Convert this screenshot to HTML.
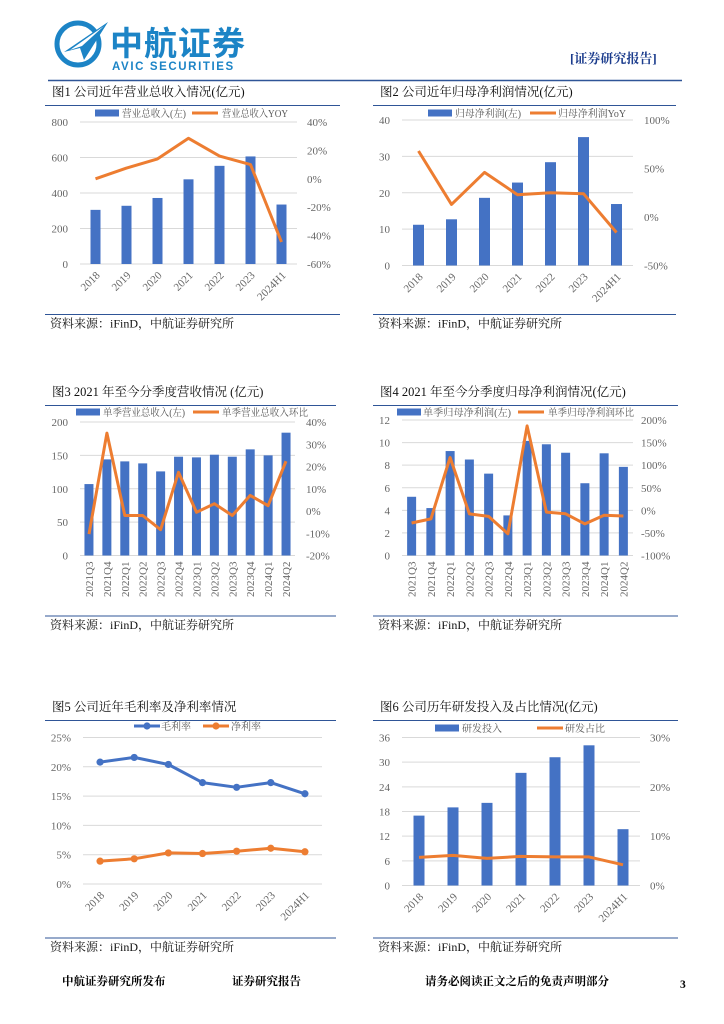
<!DOCTYPE html>
<html><head><meta charset="utf-8">
<style>
html,body{margin:0;padding:0;background:#fff;}
svg{display:block;}
text{font-family:"Liberation Serif","Noto Serif CJK SC",serif;}
.tick{font-size:11px;fill:#666;}
.leg{font-size:10px;fill:#595959;}
.ttl{font-size:12.5px;fill:#111;}
.src{font-size:12px;fill:#111;}
.foot{font-size:11.5px;fill:#000;font-weight:bold;}
</style></head>
<body>
<svg id="page" width="724" height="1024" viewBox="0 0 724 1024" xmlns="http://www.w3.org/2000/svg">
  <g>
    <g>
      <circle cx="78" cy="44" r="21" fill="none" stroke="#1c84c6" stroke-width="5"/>
      <path d="M64 52 L108 22 L84 60 L80 48 Z" fill="#1c84c6"/>
      <path d="M70 50 L104 26 L82 46 Z" fill="#fff"/>
    </g>
    <text x="110" y="55" style="font-family:'Noto Sans CJK SC',sans-serif;font-size:33px;font-weight:bold;fill:#1c84c6;letter-spacing:1px">中航证券</text>
    <text x="112" y="70" style="font-family:'Liberation Sans',sans-serif;font-size:11.5px;font-weight:bold;fill:#1c84c6;letter-spacing:1.6px">AVIC SECURITIES</text>
    <text x="570" y="63" style="font-size:13px;font-weight:bold;fill:#1a3b8c">[证券研究报告]</text>
    <line x1="48" y1="80.5" x2="682" y2="80.5" stroke="#2f5597" stroke-width="1.5"/>
  </g>
  <g id="charts"></g>
  <g>
    <text class="foot" x="62" y="985">中航证券研究所发布</text>
    <text class="foot" x="232" y="985">证券研究报告</text>
    <text class="foot" x="425" y="985">请务必阅读正文之后的免责声明部分</text>
    <text class="foot" x="680" y="988">3</text>
  </g>
</svg>
<script>
// ---- Chart 1 data ----
const c1Categories = ["2018","2019","2020","2021","2022","2023","2024H1"];
const c1Revenue = [305,328,372,477,553,606,335];
const c1Yoy = [0,7.5,14,28.5,16,10,-44.5];
const c1LeftTicks = [0,200,400,600,800];
const c1RightTicks = ["-60%","-40%","-20%","0%","20%","40%"];
// ---- Chart 2 data ----
const c2Categories = ["2018","2019","2020","2021","2022","2023","2024H1"];
const c2Profit = [11.2,12.7,18.6,22.8,28.4,35.3,16.9];
const c2Yoy = [68,13,46,23,25,24,-16];
const c2LeftTicks = [0,10,20,30,40];
const c2RightTicks = ["-50%","0%","50%","100%"];
// ---- Chart 3 data ----
const c3Categories = ["2021Q3","2021Q4","2022Q1","2022Q2","2022Q3","2022Q4","2023Q1","2023Q2","2023Q3","2023Q4","2024Q1","2024Q2"];
const c3Revenue = [107,144,141,138,126,148,147,151,148,159,150,184];
const c3Qoq = [-10.4,35,-2,-2,-8.4,17.4,-0.6,3.3,-2,7,2.4,22.4];
const c3LeftTicks = [0,50,100,150,200];
const c3RightTicks = ["-20%","-10%","0%","10%","20%","30%","40%"];
// ---- Chart 4 data ----
const c4Categories = ["2021Q3","2021Q4","2022Q1","2022Q2","2022Q3","2022Q4","2023Q1","2023Q2","2023Q3","2023Q4","2024Q1","2024Q2"];
const c4Profit = [5.2,4.2,9.25,8.5,7.25,3.55,10.15,9.85,9.1,6.4,9.05,7.85];
const c4Qoq = [-28,-19,117,-8,-13.5,-52,187,-4,-7.7,-30,-11,-12.5];
const c4LeftTicks = [0,2,4,6,8,10,12];
const c4RightTicks = ["-100%","-50%","0%","50%","100%","150%","200%"];
// ---- Chart 5 data ----
const c5Categories = ["2018","2019","2020","2021","2022","2023","2024H1"];
const c5Gross = [20.8,21.6,20.4,17.3,16.5,17.3,15.4];
const c5Net = [3.9,4.3,5.3,5.2,5.6,6.1,5.5];
const c5LeftTicks = ["0%","5%","10%","15%","20%","25%"];
// ---- Chart 6 data ----
const c6Categories = ["2018","2019","2020","2021","2022","2023","2024H1"];
const c6Rd = [17.0,19.0,20.1,27.4,31.2,34.1,13.7];
const c6Ratio = [5.7,6.1,5.5,5.9,5.8,5.8,4.2];
const c6LeftTicks = [0,6,12,18,24,30,36];
const c6RightTicks = ["0%","10%","20%","30%"];

const NS = "http://www.w3.org/2000/svg";
const root = document.getElementById("charts");
const BLUE = "#4472C4", ORANGE = "#ED7D31";
function mk(tag, attrs, parent, txt){
  const e = document.createElementNS(NS, tag);
  for (const k in attrs) e.setAttribute(k, attrs[k]);
  if (txt !== undefined) e.textContent = txt;
  (parent||root).appendChild(e);
  return e;
}
function linScale(d0,d1,r0,r1){ return v => r0 + (v-d0)/(d1-d0)*(r1-r0); }

function panel(cfg){
  const g = mk("g", {});
  
  
  const t = mk("text", {x:cfg.x0+2, y:cfg.titleY, class:"ttl"}, g, cfg.title);
  
  
  const l1 = mk("line", {x1:cfg.x0-5, x2:cfg.x1, y1:cfg.titleY+9.5, y2:cfg.titleY+9.5, stroke:"#2f5597", "stroke-width":1}, g);
  
  
  const l2 = mk("line", {x1:cfg.x0-5, x2:cfg.x1, y1:cfg.srcLineY, y2:cfg.srcLineY, stroke:"#2f5597", "stroke-width":1}, g);
  
  
  const s = mk("text", {x:cfg.x0, y:cfg.srcLineY+13, class:"src"}, g, "资料来源：iFinD，中航证券研究所");
  
  
  return g;
}

function chart(cfg){
  const g = panel(cfg);
  const n = cfg.cats.length;
  const bw = (cfg.pr - cfg.pl)/n;
  const cx = i => cfg.pl + bw*(i+0.5);
  const yL = linScale(cfg.lMin, cfg.lMax, cfg.pb, cfg.pt);
  const yR = linScale(cfg.rMin, cfg.rMax, cfg.pb, cfg.pt);
  cfg.lTicks.forEach((tv,i)=>{
    const v = typeof tv === "number" ? tv : cfg.lMin + i*(cfg.lMax-cfg.lMin)/(cfg.lTicks.length-1);
    const y = yL(v);
    const gl = mk("line", {x1:cfg.pl, x2:cfg.pr, y1:y, y2:y, stroke:"#d9d9d9", "stroke-width":1}, g);
    
    
    const tt = mk("text", {x:cfg.pl-12, y:y+4, class:"tick", "text-anchor":"end"}, g, tv);
    
    
  });
  if (cfg.rTicks){
    cfg.rTicks.forEach((tv,i)=>{
      const v = cfg.rMin + i*(cfg.rMax-cfg.rMin)/(cfg.rTicks.length-1);
      const tt = mk("text", {x:cfg.rx, y:yR(v)+4, class:"tick"}, g, tv);
      
      
    });
  }
  if (cfg.bars){
    cfg.bars.forEach((v,i)=>{
      const y = yL(v);
      const r = mk("rect", {x:cx(i)-cfg.barW/2, y:y, width:cfg.barW, height:cfg.pb-y, fill:BLUE}, g);
      
      
    });
  }
  (cfg.lines||[]).forEach(ln=>{
    const sc = ln.axis === "right" ? yR : yL;
    const pts = ln.values.map((v,i)=>cx(i).toFixed(1)+","+sc(v).toFixed(1)).join(" ");
    const p = mk("polyline", {points:pts, fill:"none", stroke:ln.color, "stroke-width":3, "stroke-linejoin":"round"}, g);
    
    
    if (ln.markers){
      ln.values.forEach((v,i)=>{
        const c = mk("circle", {cx:cx(i), cy:sc(v), r:3.6, fill:ln.color}, g);
        
        
      });
    }
  });
  cfg.cats.forEach((c,i)=>{
    let t;
    if (cfg.rot === 90){
      t = mk("text", {x:0, y:0, class:"tick", "text-anchor":"end", transform:`translate(${cx(i)+4},${cfg.pb+6}) rotate(-90)`}, g, c);
    } else {
      t = mk("text", {x:0, y:0, class:"tick", "text-anchor":"end", transform:`translate(${cx(i)+5},${cfg.pb+12}) rotate(-45)`}, g, c);
    }
    
    
  });
  cfg.legend.forEach(lg=>{
    if (lg.type === "rect"){
      const r = mk("rect", {x:lg.x, y:cfg.legY-3.5, width:24, height:7, fill:BLUE}, g);
      
      
    } else {
      const l = mk("line", {x1:lg.x, x2:lg.x+26, y1:cfg.legY, y2:cfg.legY, stroke:lg.color, "stroke-width":3}, g);
      
      
      if (lg.marker){
        const c = mk("circle", {cx:lg.x+13, cy:cfg.legY, r:3.6, fill:lg.color}, g);
        
        
      }
    }
    const attrs = {x:lg.tx, y:cfg.legY+4, class:"leg"};
    if (lg.w) { attrs.textLength = lg.w; attrs.lengthAdjust = "spacingAndGlyphs"; }
    const t = mk("text", attrs, g, lg.label);
    
    
  });
}

chart({name:"chart-revenue", title:"图1  公司近年营业总收入情况(亿元)", x0:50, x1:340, titleY:96, srcLineY:314.5,
  cats:c1Categories, pl:80, pr:297, pt:122, pb:264, lMin:0, lMax:800, rMin:-60, rMax:40, lTicks:c1LeftTicks, rTicks:c1RightTicks, rx:307,
  bars:c1Revenue, barW:10, lines:[{values:c1Yoy, axis:"right", color:ORANGE, name:"line-revenue-yoy"}], rot:45, legY:113,
  legend:[{type:"rect", x:95, tx:122, w:64, label:"营业总收入(左)"},{type:"line", x:192, tx:222, w:66, color:ORANGE, label:"营业总收入YOY"}]});

chart({name:"chart-net-profit", title:"图2  公司近年归母净利润情况(亿元)", x0:378, x1:676, titleY:96, srcLineY:314.5,
  cats:c2Categories, pl:402, pr:633, pt:120, pb:265.5, lMin:0, lMax:40, rMin:-50, rMax:100, lTicks:c2LeftTicks, rTicks:c2RightTicks, rx:644,
  bars:c2Profit, barW:11, lines:[{values:c2Yoy, axis:"right", color:ORANGE, name:"line-profit-yoy"}], rot:45, legY:113,
  legend:[{type:"rect", x:428, tx:455, w:66, label:"归母净利润(左)"},{type:"line", x:530, tx:558, w:68, color:ORANGE, label:"归母净利润YoY"}]});

chart({name:"chart-quarterly-revenue", title:"图3  2021 年至今分季度营收情况 (亿元)", x0:50, x1:336, titleY:396, srcLineY:616,
  cats:c3Categories, pl:80, pr:295, pt:422, pb:555.5, lMin:0, lMax:200, rMin:-20, rMax:40, lTicks:c3LeftTicks, rTicks:c3RightTicks, rx:306,
  bars:c3Revenue, barW:9, lines:[{values:c3Qoq, axis:"right", color:ORANGE, name:"line-revenue-qoq"}], rot:90, legY:412,
  legend:[{type:"rect", x:76, tx:103, w:82, label:"单季营业总收入(左)"},{type:"line", x:193, tx:222, w:86, color:ORANGE, label:"单季营业总收入环比"}]});

chart({name:"chart-quarterly-profit", title:"图4  2021 年至今分季度归母净利润情况(亿元)", x0:378, x1:678, titleY:396, srcLineY:616,
  cats:c4Categories, pl:402, pr:633, pt:420, pb:555.5, lMin:0, lMax:12, rMin:-100, rMax:200, lTicks:c4LeftTicks, rTicks:c4RightTicks, rx:641,
  bars:c4Profit, barW:9, lines:[{values:c4Qoq, axis:"right", color:ORANGE, name:"line-profit-qoq"}], rot:90, legY:412,
  legend:[{type:"rect", x:397, tx:423, w:88, label:"单季归母净利润(左)"},{type:"line", x:518, tx:548, w:86, color:ORANGE, label:"单季归母净利润环比"}]});

chart({name:"chart-margins", title:"图5  公司近年毛利率及净利率情况", x0:50, x1:336, titleY:711, srcLineY:938,
  cats:c5Categories, pl:83, pr:322, pt:737.5, pb:884, lMin:0, lMax:25, rMin:0, rMax:25, lTicks:c5LeftTicks, rTicks:null, rx:0,
  bars:null, barW:0, rot:45, legY:726,
  lines:[{values:c5Gross, axis:"left", color:BLUE, markers:true, name:"line-gross-margin"},{values:c5Net, axis:"left", color:ORANGE, markers:true, name:"line-net-margin"}],
  legend:[{type:"line", x:134, tx:161, color:BLUE, marker:true, label:"毛利率"},{type:"line", x:203, tx:231, color:ORANGE, marker:true, label:"净利率"}]});

chart({name:"chart-rd", title:"图6  公司历年研发投入及占比情况(亿元)", x0:378, x1:678, titleY:711, srcLineY:938,
  cats:c6Categories, pl:402, pr:640, pt:737.5, pb:885.5, lMin:0, lMax:36, rMin:0, rMax:30, lTicks:c6LeftTicks, rTicks:c6RightTicks, rx:650,
  bars:c6Rd, barW:11, lines:[{values:c6Ratio, axis:"right", color:ORANGE, name:"line-rd-ratio"}], rot:45, legY:728,
  legend:[{type:"rect", x:435, tx:462, label:"研发投入"},{type:"line", x:537, tx:565, color:ORANGE, label:"研发占比"}]});
</script>
</body></html>
